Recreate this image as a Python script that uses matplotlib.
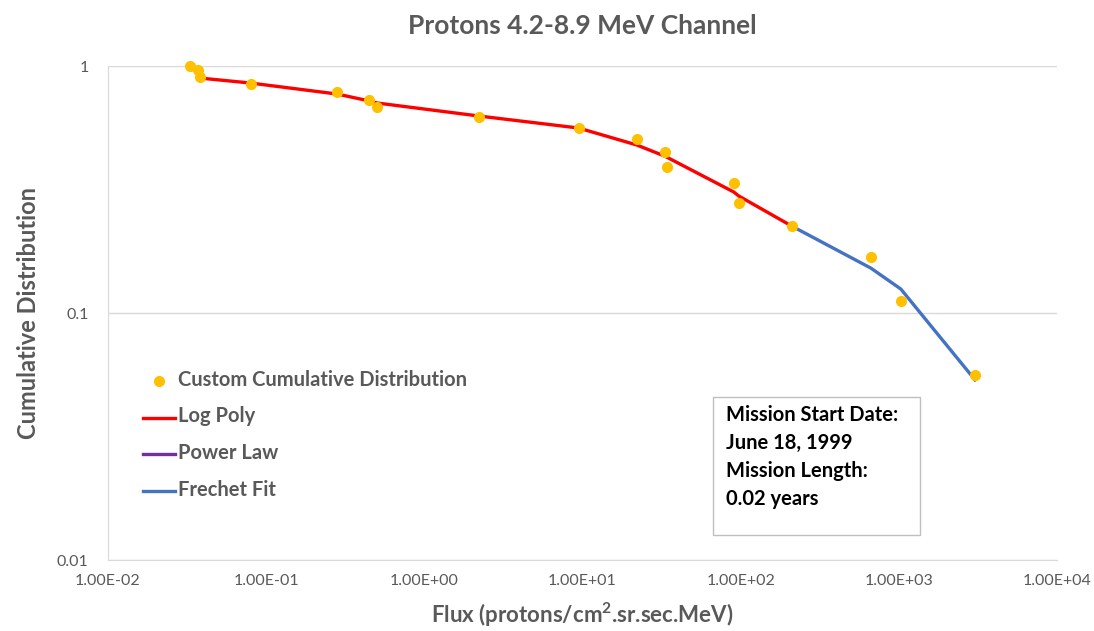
import matplotlib
matplotlib.use("Agg")
import matplotlib.pyplot as plt
from matplotlib.patches import Rectangle

plt.rcParams["font.family"] = ["Lato", "DejaVu Sans"]
plt.rcParams["mathtext.fontset"] = "custom"
plt.rcParams["mathtext.bf"] = "Lato:bold"
plt.rcParams["mathtext.rm"] = "Lato"

# custom cumulative distribution points
flux = [0.033, 0.0372, 0.038, 0.080, 0.281, 0.449, 0.505, 2.23, 9.44, 22.0,
        33.0, 34.0, 90.4, 97.0, 210, 665, 1030, 3030]
cum = [1.0, 0.963, 0.903, 0.846, 0.785, 0.728, 0.682, 0.622, 0.561, 0.506,
       0.449, 0.390, 0.336, 0.279, 0.225, 0.169, 0.112, 0.0561]

# fits
logpoly_x = [0.038, 0.080, 0.281, 0.449, 0.505, 2.23, 9.44, 22.0, 33.0, 34.0, 90.4, 97.0, 210]
logpoly_y = [0.894, 0.853, 0.770, 0.722, 0.708, 0.627, 0.561, 0.479, 0.432, 0.428, 0.309, 0.298, 0.225]
power_x = [0.033, 0.0372, 0.038]
power_y = [0.99, 0.94, 0.894]
frechet_x = [210, 665, 1030, 3030]
frechet_y = [0.225, 0.152, 0.125, 0.0536]

xticks = [1e-2, 1e-1, 1e0, 1e1, 1e2, 1e3, 1e4]
xtick_labels = ["1.00E-02", "1.00E-01", "1.00E+00", "1.00E+01", "1.00E+02", "1.00E+03", "1.00E+04"]
yticks = [0.01, 0.1, 1]
ytick_labels = ["0.01", "0.1", "1"]

GRAY = "#595959"

fig = plt.figure(figsize=(10.94, 6.31), dpi=100)
ax = fig.add_axes([0.0987, 0.1125, 0.8675, 0.7829])

ax.plot(flux, cum, "o", color="#FFC000", markersize=7, clip_on=False, zorder=5,
        label="Custom Cumulative Distribution")
ax.plot(logpoly_x, logpoly_y, color="#FF0000", lw=2.4, label="Log Poly", zorder=3)
ax.plot(power_x, power_y, color="#7030A0", lw=2.4, label="Power Law", zorder=3)
ax.plot(frechet_x, frechet_y, color="#4472C4", lw=2.4, label="Frechet Fit", zorder=3)

ax.set_xscale("log")
ax.set_yscale("log")
ax.set_xlim(1e-2, 1e4)
ax.set_ylim(0.01, 1)
ax.set_xticks(xticks)
ax.set_xticklabels(xtick_labels, fontsize=11.5, color=GRAY)
ax.set_yticks(yticks)
ax.set_yticklabels(ytick_labels, fontsize=11.5, color=GRAY)
ax.minorticks_off()
ax.tick_params(axis="x", length=0, pad=10)
ax.tick_params(axis="y", length=0, pad=14)

ax.grid(axis="y", color="#D9D9D9", lw=1)
ax.set_axisbelow(True)
for s in ["top", "right"]:
    ax.spines[s].set_visible(False)
for s in ["left", "bottom"]:
    ax.spines[s].set_color("#D9D9D9")

ax.set_title("Protons 4.2-8.9 MeV Channel", fontsize=19, fontweight="bold", color=GRAY, pad=23)
ax.set_xlabel("Flux (protons/cm$^\\mathbf{2}$.sr.sec.MeV)", fontsize=16, fontweight="bold",
              color=GRAY, labelpad=9)
ax.set_ylabel("Cumulative Distribution", fontsize=17, fontweight="bold", color=GRAY, labelpad=12)

leg = ax.legend(loc="upper left", bbox_to_anchor=(0.037, 0.385), frameon=False,
                handlelength=2.3, handletextpad=0.2, labelspacing=1.2, numpoints=1,
                borderaxespad=0, borderpad=0)
for t in leg.get_texts():
    t.set_color(GRAY)
    t.set_fontweight("bold")
    t.set_fontsize(14.5)

ax.add_patch(Rectangle((0.6375, 0.0506), 0.218, 0.2794, transform=ax.transAxes,
                       fc="white", ec="#BFBFBF", lw=1, zorder=6))
ax.text(0.651, 0.313,
        "Mission Start Date:\nJune 18, 1999\nMission Length:\n0.02 years",
        transform=ax.transAxes, fontsize=14.5, fontweight="bold", color="black",
        va="top", ha="left", linespacing=1.5, zorder=7)

fig.savefig("out.png", dpi=100)
